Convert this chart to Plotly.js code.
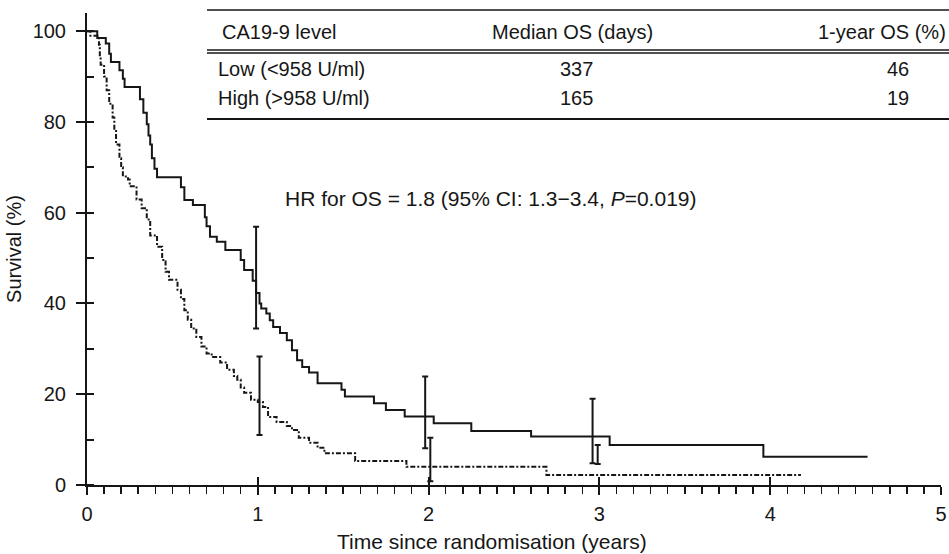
<!DOCTYPE html>
<html><head><meta charset="utf-8">
<script src="https://cdn.plot.ly/plotly-3.0.1.min.js"></script>
<style>html,body{margin:0;padding:0;background:#fff}#chart{width:949px;height:554px}</style>
</head><body><div id="chart"></div>
<script>
// ---- data ----
const lowTime = [0, 0.06, 0.11, 0.13, 0.14, 0.19, 0.21, 0.22, 0.31, 0.33, 0.35, 0.36, 0.37, 0.38, 0.395, 0.41,
  0.55, 0.57, 0.62, 0.69, 0.70, 0.72, 0.76, 0.81, 0.90, 0.92, 0.97, 0.99, 1.01, 1.02, 1.05, 1.07, 1.09, 1.13,
  1.17, 1.20, 1.23, 1.26, 1.30, 1.35, 1.49, 1.51, 1.68, 1.75, 1.86, 2.03, 2.25, 2.60, 3.06, 3.96, 4.57];
const lowSurv = [100, 98.5, 97.3, 95, 93.2, 91.4, 89.5, 87.7, 85, 82, 79.5, 77, 75, 72, 69.7, 67.8,
  65.6, 62.8, 61.7, 59, 57, 54.7, 53.6, 51.8, 49.6, 47.4, 45, 42.3, 40, 38.9, 37.8, 36.3, 34.8, 33.5,
  31.9, 29.7, 27.5, 26, 24.8, 22.4, 21, 19.5, 18, 16.5, 15.1, 13.6, 11.9, 10.7, 8.8, 6.2, 6.2];
const highTime = [0, 0.02, 0.07, 0.075, 0.08, 0.10, 0.115, 0.13, 0.15, 0.16, 0.17, 0.19, 0.20, 0.21, 0.24, 0.25,
  0.29, 0.32, 0.35, 0.37, 0.41, 0.44, 0.46, 0.48, 0.53, 0.55, 0.57, 0.59, 0.61, 0.64, 0.67, 0.70, 0.73, 0.78,
  0.82, 0.86, 0.88, 0.90, 0.92, 0.96, 1.00, 1.03, 1.06, 1.11, 1.17, 1.20, 1.24, 1.30, 1.35, 1.39, 1.57, 1.87, 2.69, 4.18];
const highSurv = [100, 99, 97, 94.4, 92.6, 90, 87, 84, 81, 78, 75, 72, 70, 68, 67.3, 65.8,
  62.9, 61, 58.5, 55, 52.5, 49.6, 47, 45.2, 43, 41, 38.5, 36.4, 34.5, 32.6, 30.5, 29, 28.2, 27,
  25.4, 24, 23.2, 21.5, 20.3, 18.8, 18.3, 17.2, 15, 13.9, 13, 12.1, 10.4, 9.3, 8.2, 7.0, 5.3, 4.0, 2.2, 2.2];
const lowBarTime = [0.99, 1.98, 2.96];
const lowBarUpper = [56.9, 23.9, 19.0];
const lowBarLower = [34.5, 8.1, 4.8];
const highBarTime = [1.01, 2.01, 2.99];
const highBarUpper = [28.3, 10.4, 8.8];
const highBarLower = [11.0, 0.8, 4.6];
const yMajorTickMarks = [0, 20, 40, 60, 80];
const tableHeader = ['CA19-9 level', 'Median OS (days)', '1-year OS (%)'];
const tableGroups = ['Low (&lt;958 U/ml)', 'High (&gt;958 U/ml)'];
const medianOS = ['337', '165'];
const oneYearOS = ['46', '19'];
const hrText = 'HR for OS = 1.8 (95% CI: 1.3\u22123.4, <i>P</i>=0.019)';
const xTitle = 'Time since randomisation (years)';
const yTitle = 'Survival (%)';

// ---- layout helpers (pixel -> paper) ----
const M = {l: 87, r: 8, t: 13, b: 69};
const W = 949, H = 554;
const pw = W - M.l - M.r, ph = H - M.t - M.b;
const px = x => (x - M.l) / pw;
const py = y => (H - M.b - y) / ph;
const INK = '#161616';
const FONT = 'Liberation Sans, Arial, Helvetica, sans-serif';
const YR = [0, 104];

function barTrace(t, lo, hi) {
  return {
    type: 'scatter', mode: 'markers', x: t, y: lo,
    marker: {size: 1, color: 'rgba(0,0,0,0)'},
    error_y: {type: 'data', symmetric: false,
      array: hi.map((h, i) => h - lo[i]), arrayminus: lo.map(() => 0),
      color: INK, thickness: 2, width: 3},
    hoverinfo: 'skip', showlegend: false
  };
}
// invisible helper traces so the tick-only overlay axes get drawn
const axisHolder = (xa, ya) => ({type: 'scatter', mode: 'markers', x: [0], y: [-50], xaxis: xa, yaxis: ya,
  marker: {size: 1, color: 'rgba(0,0,0,0)'}, hoverinfo: 'skip', showlegend: false});

const traces = [
  {type: 'scatter', mode: 'lines', x: lowTime, y: lowSurv, line: {shape: 'hv', color: INK, width: 2}, showlegend: false},
  {type: 'scatter', mode: 'lines', x: highTime, y: highSurv, line: {shape: 'hv', color: INK, width: 2, dash: '5px,2px,2px,2px'}, showlegend: false},
  barTrace(lowBarTime, lowBarLower, lowBarUpper),
  barTrace(highBarTime, highBarLower, highBarUpper),
  axisHolder('x2', 'y'), axisHolder('x', 'y2')
];

const ann = [];
const tf = {family: FONT, size: 20, color: INK};
ann.push({text: tableHeader[0], x: px(220), y: py(32), xanchor: 'left'});
ann.push({text: tableHeader[1], x: px(572), y: py(32), xanchor: 'center'});
ann.push({text: tableHeader[2], x: px(948), y: py(32), xanchor: 'right'});
const rowY = [69, 98];
tableGroups.forEach((g, i) => {
  ann.push({text: g, x: px(216), y: py(rowY[i]), xanchor: 'left'});
  ann.push({text: medianOS[i], x: px(576), y: py(rowY[i]), xanchor: 'center'});
  ann.push({text: oneYearOS[i], x: px(898), y: py(rowY[i]), xanchor: 'center'});
});
ann.push({text: hrText, x: px(283), y: py(199), xanchor: 'left', size: 21});
ann.push({text: xTitle, x: px(492), y: py(541), xanchor: 'center', size: 21});
ann.forEach(a => {
  a.xref = 'paper'; a.yref = 'paper'; a.yanchor = 'middle'; a.showarrow = false;
  a.font = Object.assign({}, tf, a.size ? {size: a.size} : {}); delete a.size;
});

const rule = (y, w) => ({type: 'line', xref: 'paper', yref: 'paper', x0: px(207), x1: px(949), y0: py(y), y1: py(y), line: {color: INK, width: w}});
const shapes = [rule(10, 1.6), rule(50, 1.3), rule(53, 1.3), rule(119, 2)];

const layout = {
  width: W, height: H, margin: M,
  paper_bgcolor: '#fff', plot_bgcolor: '#fff',
  font: {family: FONT, color: INK, size: 20},
  showlegend: false,
  xaxis: {range: [0, 5], dtick: 1, tick0: 0, showline: true, linecolor: INK, linewidth: 2,
    ticks: 'outside', ticklen: 8, tickwidth: 2, tickcolor: INK, showgrid: false, zeroline: false,
    minor: {dtick: 0.1, tick0: 0, ticks: 'outside', ticklen: 7, tickwidth: 1.5, tickcolor: INK, showgrid: false},
    tickfont: {size: 20}, ticklabelstandoff: 2},
  xaxis2: {overlaying: 'x', anchor: 'y', range: [0, 5], dtick: 1, tick0: 0, ticks: 'inside', ticklen: 8, tickwidth: 2,
    tickcolor: INK, showticklabels: false, showline: false, showgrid: false, zeroline: false},
  yaxis: {range: YR, dtick: 20, tick0: 0, showline: true, linecolor: INK, linewidth: 2,
    ticks: 'outside', ticklen: 9, tickwidth: 2, tickcolor: INK, showgrid: false, zeroline: false,
    minor: {dtick: 10, tick0: 0, ticks: 'inside', ticklen: 7, tickwidth: 2, tickcolor: INK, showgrid: false},
    tickfont: {size: 20}, ticklabelstandoff: 6,
    title: {text: yTitle, font: {size: 20}, standoff: 6}},
  yaxis2: {overlaying: 'y', anchor: 'x', side: 'left', range: YR, tickmode: 'array', tickvals: yMajorTickMarks,
    ticks: 'inside', ticklen: 7, tickwidth: 2, tickcolor: INK,
    showticklabels: false, showline: false, showgrid: false, zeroline: false},
  annotations: ann,
  shapes: shapes
};

Plotly.newPlot('chart', traces, layout, {staticPlot: true});
</script>
</body></html>
